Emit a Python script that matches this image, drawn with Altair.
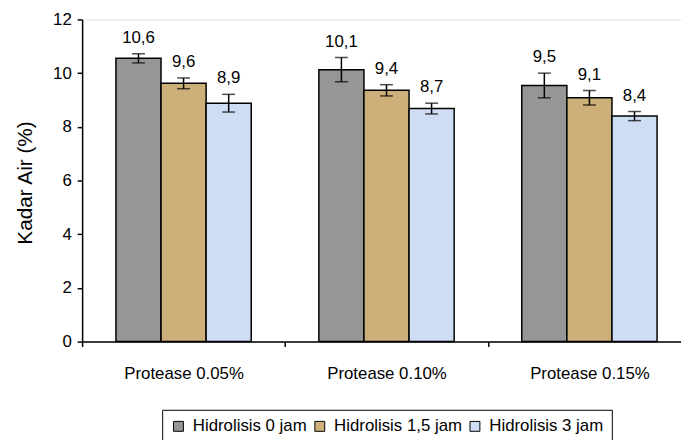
import altair as alt
import pandas as pd

groups = ["Protease 0.05%", "Protease 0.10%", "Protease 0.15%"]
series = ["Hidrolisis 0 jam", "Hidrolisis 1,5 jam", "Hidrolisis 3 jam"]
means = [
    [10.55, 9.62, 8.88],
    [10.13, 9.36, 8.68],
    [9.54, 9.08, 8.40],
]
errors = [
    [0.17, 0.20, 0.33],
    [0.45, 0.21, 0.20],
    [0.46, 0.27, 0.17],
]
labels = [
    ["10,6", "9,6", "8,9"],
    ["10,1", "9,4", "8,7"],
    ["9,5", "9,1", "8,4"],
]
colors = ["#969696", "#CDB079", "#CFDDF4"]
y_ticks = [0, 2, 4, 6, 8, 10, 12]

rows = []
for gi, g in enumerate(groups):
    for si, s in enumerate(series):
        m = means[gi][si]
        e = errors[gi][si]
        rows.append({"group": g, "series": s, "mean": m,
                     "lo": m - e, "hi": m + e, "label": labels[gi][si]})
df = pd.DataFrame(rows)

FONT = "Liberation Sans"

x_enc = alt.X("group:N", sort=groups,
              scale=alt.Scale(paddingInner=0, paddingOuter=0, range=[0, 616]),
              axis=alt.Axis(title=None, tickBand="extent", labelFontSize=17,
                            labelFont=FONT, labelColor="black", labelPadding=19,
                            domainColor="black", tickColor="black", tickSize=5,
                            labelAngle=0, domainWidth=1.5, tickWidth=1.5))
xo_enc = alt.XOffset("series:N", sort=series,
                     scale=alt.Scale(paddingInner=0, paddingOuter=0.75))

y_scale = alt.Scale(domain=[0, 12], nice=False, zero=True)

bars = alt.Chart(df).mark_bar(stroke="black", strokeWidth=1.5).encode(
    x=x_enc,
    xOffset=xo_enc,
    y=alt.Y("mean:Q", scale=y_scale,
            axis=alt.Axis(values=y_ticks, title="Kadar Air (%)", grid=False,
                          labelFontSize=17, labelFont=FONT, labelColor="black",
                          labelPadding=6, tickSize=5, tickColor="black",
                          domainColor="black", domainWidth=1.5, tickWidth=1.5,
                          titleFont=FONT, titleFontSize=21, titleFontWeight="normal",
                          titleColor="black", titleX=-57, titleY=165,
                          titleAlign="center", titleBaseline="middle")),
    color=alt.Color("series:N", sort=series,
                    scale=alt.Scale(domain=series, range=colors),
                    legend=alt.Legend(title=None, orient="none", legendX=81, legendY=395,
                                      direction="horizontal", symbolType="square",
                                      symbolSize=100, symbolStrokeColor="black",
                                      symbolStrokeWidth=1, labelFontSize=17,
                                      labelFont=FONT, labelColor="black",
                                      labelOffset=6, columnPadding=4,
                                      strokeColor="black", padding=8,
                                      labelLimit=300)),
)

err = alt.Chart(df).mark_rule(color="black", strokeWidth=1.5).encode(
    x=x_enc, xOffset=xo_enc,
    y=alt.Y("lo:Q", scale=y_scale), y2="hi:Q",
)
cap_lo = alt.Chart(df).mark_tick(color="black", thickness=1.5, size=13).encode(
    x=x_enc, xOffset=xo_enc, y=alt.Y("lo:Q", scale=y_scale),
)
cap_hi = alt.Chart(df).mark_tick(color="black", thickness=1.5, size=13).encode(
    x=x_enc, xOffset=xo_enc, y=alt.Y("hi:Q", scale=y_scale),
)
text = alt.Chart(df).mark_text(font=FONT, fontSize=17, color="black",
                               baseline="alphabetic", dy=-11).encode(
    x=x_enc, xOffset=xo_enc, y=alt.Y("hi:Q", scale=y_scale), text="label:N",
)

chart = alt.layer(bars, err, cap_lo, cap_hi, text).properties(
    width=606, height=326,
    autosize=alt.AutoSizeParams(type="none"),
    padding={"left": 75, "top": 9, "right": 0, "bottom": 97},
).configure_view(stroke=None).configure(background="white")

chart.save("out.html", embed_options={"renderer": "svg", "actions": False})
